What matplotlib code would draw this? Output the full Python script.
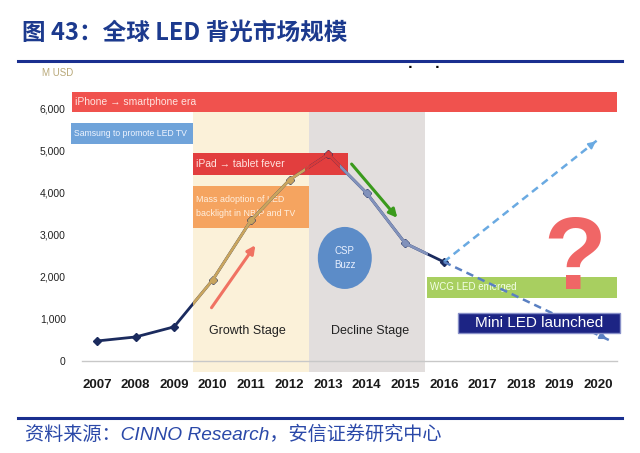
import matplotlib
matplotlib.use('Agg')
import matplotlib.pyplot as plt
from matplotlib.patches import Rectangle, Ellipse

years = [2007, 2008, 2009, 2010, 2011, 2012, 2013, 2014, 2015, 2016]
market = [475, 570, 810, 1920, 3340, 4300, 4900, 3980, 2790, 2350]
forecast_years = [2016, 2020]
forecast_high = [2350, 5250]
forecast_low_years = [2016, 2020.3]
forecast_low = [2350, 490]
xtick_years = list(range(2007, 2021))
ytick_vals = [0, 1000, 2000, 3000, 4000, 5000, 6000]
ytick_labels = ['0', '1,000', '2,000', '3,000', '4,000', '5,000', '6,000']

CJK = ['Noto Sans CJK SC', 'DejaVu Sans']
NARROW = ['Liberation Sans Narrow', 'Liberation Sans', 'DejaVu Sans']

fig = plt.figure(figsize=(6.4, 4.53), dpi=100)
fig.patch.set_facecolor('white')

# title + rules
fig.text(22/640, 1-33/453, '图 43：全球 LED 背光市场规模', family=CJK, fontsize=17,
         fontweight='heavy', color='#1c3a8e', va='center', ha='left')
fig.add_artist(plt.Line2D([18/640, 622/640], [1-61/453, 1-61/453], color='#1a2f8f', lw=2.2))
fig.add_artist(plt.Line2D([18/640, 622/640], [1-418/453, 1-418/453], color='#1a2f8f', lw=2.2))
fig.text(25/640, 1-435/453, '资料来源：CINNO Research，安信证券研究中心',
         family=['Liberation Sans', 'Noto Sans CJK SC'], style='italic', fontsize=13.8,
         color='#2a48a8', va='center', ha='left')
fig.text(42/640, 1-73/453, 'M USD', family=NARROW, fontsize=7, color='#b8a878', va='center')
fig.text(410/640, 1-67/453, '·', fontsize=9, color='black', ha='center', va='center', fontweight='bold')
fig.text(437/640, 1-67/453, '·', fontsize=9, color='black', ha='center', va='center', fontweight='bold')

# axes placed so that 2007 -> px 97, 2020 -> px 598, 0 -> py 361, 6000 -> py 108
left_px, right_px, top_px, bot_px = 70, 625, 85, 372
sx = (598 - 97) / 13.0
sy = (361 - 108) / 6000.0
ax = fig.add_axes([left_px/640, 1-bot_px/453, (right_px-left_px)/640, (bot_px-top_px)/453])
ax.set_xlim(2007 + (left_px-97)/sx, 2007 + (right_px-97)/sx)
ax.set_ylim((361-bot_px)/sy, (361-top_px)/sy)
ax.patch.set_alpha(0)
for s in ax.spines.values():
    s.set_visible(False)

ax.set_xticks(xtick_years)
ax.set_xticklabels([str(y) for y in xtick_years], family=NARROW, fontsize=9.5,
                   fontweight='bold', color='#1a1a1a')
ax.set_yticks(ytick_vals)
ax.set_yticklabels(ytick_labels, family=NARROW, fontsize=7.5, color='#222222')
ax.tick_params(length=0, pad=3)
ax.tick_params(axis='x', pad=5)

# stage bands
y0, y1 = ax.get_ylim()
band_top = (5900 - y0) / (y1 - y0)
ax.axvspan(2009.49, 2012.5, ymin=0, ymax=band_top, color='#fbf1d9', zorder=0, lw=0)
ax.axvspan(2012.5, 2015.5, ymin=0, ymax=band_top, color='#e2dedd', zorder=0, lw=0)
ax.plot([2006.6, 2020.5], [0, 0], color='#c8c8c8', lw=1, zorder=1)

# market line, recoloured per stage via clipping
segs = [(2006, 2021, '#1b2b5e', 4.5), (2009.5, 2012.5, '#c9a55e', 3.5),
        (2012.4, 2013.3, '#d83a3a', 3.5), (2013.3, 2015.6, '#8292bb', 3.5)]
for x0, x1, c, ms in segs:
    ln, = ax.plot(years, market, color=c, lw=2, marker='D', ms=ms, zorder=4)
    clip = Rectangle((x0, -1000), x1 - x0, 9000, transform=ax.transData)
    ln.set_clip_path(clip)

# forecasts
ax.plot(forecast_years, forecast_high, color='#6aaae2', lw=1.8, ls=(0, (3, 2)), zorder=4)
ax.annotate('', xy=(forecast_years[1], forecast_high[1]),
            xytext=(forecast_years[1] - 0.2, forecast_high[1] - 0.05*(forecast_high[1]-forecast_high[0])),
            arrowprops=dict(arrowstyle='-|>', color='#6aaae2', lw=1.5, mutation_scale=10), zorder=5)
ax.plot(forecast_low_years, forecast_low, color='#5a80c2', lw=1.8, ls=(0, (3, 2)), zorder=4)
ax.annotate('', xy=(forecast_low_years[1], forecast_low[1]),
            xytext=(forecast_low_years[1] - 0.2, forecast_low[1] + 0.05*(forecast_low[0]-forecast_low[1])),
            arrowprops=dict(arrowstyle='-|>', color='#5a80c2', lw=1.5, mutation_scale=10), zorder=5)

# labelled boxes
def box(x0, x1, y0, y1, fc, text, tc='white', fs=7, z=3, ec='none', lw=0, tx=None):
    ax.add_patch(Rectangle((x0, y0), x1 - x0, y1 - y0, facecolor=fc, edgecolor=ec, lw=lw, zorder=z))
    if text:
        ax.text(x0 + 0.08 if tx is None else tx, (y0 + y1) / 2, text, color=tc, fontsize=fs,
                family=NARROW, va='center', ha='left' if tx is None else 'center', zorder=z + 1,
                linespacing=1.7)

box(2006.35, 2020.49, 5907, 6382, '#f0524e', 'iPhone → smartphone era', tc='#ffe4e0', fs=7.5, z=6)
box(2006.33, 2009.49, 5148, 5647, '#6fa3da', 'Samsung to promote LED TV', tc='#eef4ff', fs=6.2)
box(2009.49, 2013.51, 4413, 4935, '#e23e3e', 'iPad → tablet fever', tc='#ffe4e0', fs=7.5, z=2)
box(2009.49, 2012.5, 3155, 4152, '#f5a460', 'Mass adoption of LED\nbacklight in NB/P and TV',
    tc='#fff0e0', fs=6.4, z=2)
box(2015.55, 2020.49, 1495, 1993, '#a8cf60', 'WCG LED emerged', tc='#f4ffe8', fs=7, z=2)
box(2016.37, 2020.57, 664, 1139, '#1c2484', 'Mini LED launched', tc='white', fs=11, z=6,
    ec='#8890c8', lw=1, tx=2018.47)

ax.add_patch(Ellipse((2013.43, 2444), 1.40, 1471, facecolor='#5c8cc8', edgecolor='none', zorder=3))
ax.text(2013.43, 2444, 'CSP\nBuzz', color='#e8f0ff', fontsize=7, ha='center', va='center',
        family=NARROW, zorder=4, linespacing=1.6)

ax.annotate('', xy=(2011.15, 2800), xytext=(2009.93, 1210),
            arrowprops=dict(arrowstyle='-|>', color='#f07262', lw=2.2, mutation_scale=12), zorder=5)
ax.annotate('', xy=(2014.84, 3345), xytext=(2013.56, 4721),
            arrowprops=dict(arrowstyle='-|>', color='#3a9a1c', lw=2.2, mutation_scale=12), zorder=5)

ax.text(2010.89, 712, 'Growth Stage', fontsize=9, color='#222222', ha='center', va='center', family=NARROW)
ax.text(2014.08, 712, 'Decline Stage', fontsize=9, color='#222222', ha='center', va='center', family=NARROW)
ax.text(2019.40, 2330, '?', fontsize=74, color='#f06666', ha='center', va='center',
        fontweight='bold', family=['Liberation Sans'], zorder=3)

fig.savefig('out.png', dpi=100)
